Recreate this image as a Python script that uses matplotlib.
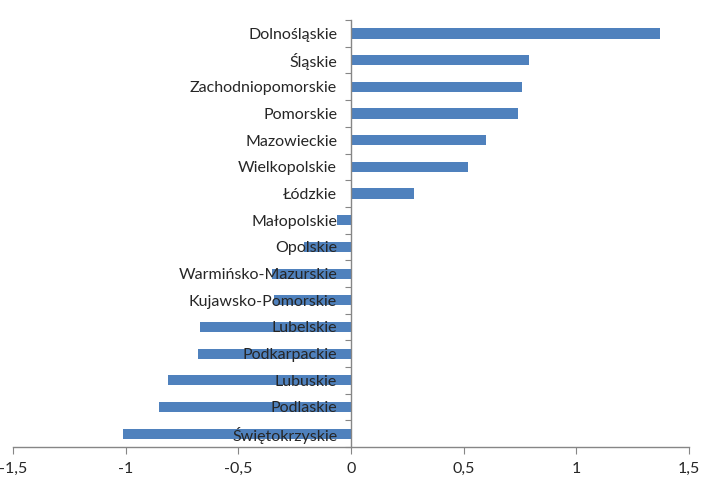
import numpy as np
from matplotlib import pyplot as plt
from matplotlib.ticker import FuncFormatter

# regions, top to bottom
regions = ['Dolnośląskie', 'Śląskie', 'Zachodniopomorskie', 'Pomorskie',
           'Mazowieckie', 'Wielkopolskie', 'Łódzkie', 'Małopolskie',
           'Opolskie', 'Warmińsko-Mazurskie', 'Kujawsko-Pomorskie',
           'Lubelskie', 'Podkarpackie', 'Lubuskie', 'Podlaskie',
           'Świętokrzyskie']
values = [1.37, 0.79, 0.76, 0.74, 0.60, 0.52, 0.28, -0.06,
          -0.21, -0.35, -0.34, -0.67, -0.68, -0.81, -0.85, -1.01]
x_ticks = [-1.5, -1, -0.5, 0, 0.5, 1, 1.5]

plt.rcParams['font.family'] = ['Lato', 'DejaVu Sans']

axis_color = '#868686'
text_color = '#262626'

fig = plt.figure(figsize=(7.02, 4.79), dpi=100)
ax = fig.add_axes([0.0185, 0.0668, 0.963, 0.8912])

pos = np.arange(len(regions))
ax.barh(pos, values, height=0.38, color='#4F81BD', zorder=1)

ax.set_xlim(-1.5, 1.5)
ax.set_ylim(len(regions) - 0.5, -0.5)

# vertical axis sits at zero, ticks between categories
ax.spines['left'].set_position(('data', 0))
ax.spines['top'].set_visible(False)
ax.spines['right'].set_visible(False)
for s in ['left', 'bottom']:
    ax.spines[s].set_color(axis_color)
    ax.spines[s].set_linewidth(1)

ax.set_yticks(np.arange(len(regions) + 1) - 0.5)
ax.set_yticklabels([])
ax.set_yticks(pos, minor=True)
ax.set_yticklabels(regions, minor=True)
ax.tick_params(axis='y', which='major', direction='out', length=4,
               color=axis_color)
ax.tick_params(axis='y', which='minor', length=0, pad=10,
               labelsize=11.5, labelcolor=text_color)

ax.set_xticks(x_ticks)
ax.xaxis.set_major_formatter(
    FuncFormatter(lambda v, p: f'{v:g}'.replace('.', ',')))
ax.tick_params(axis='x', direction='out', length=5, color=axis_color,
               labelsize=11.5, labelcolor=text_color, pad=6)

for lab in ax.get_yticklabels(minor=True):
    lab.set_zorder(5)

plt.savefig('out.png', dpi=100)
